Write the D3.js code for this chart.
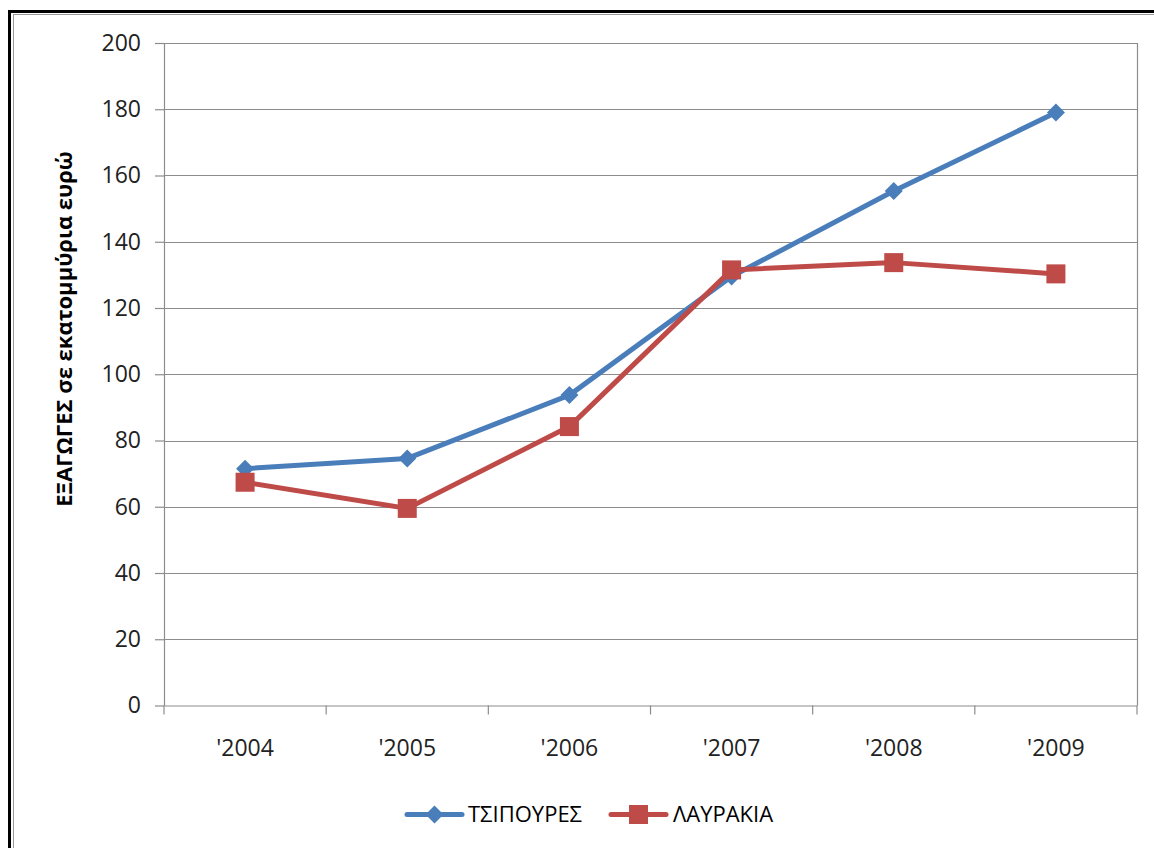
<!DOCTYPE html>
<html><head><meta charset="utf-8">
<script src="https://cdn.jsdelivr.net/npm/d3@7"></script>
<style>html,body{margin:0;padding:0;background:#fff;}svg{display:block;}</style>
</head><body>
<svg id="chart" width="1154" height="848"></svg>
<script>
const categories = ["'2004","'2005","'2006","'2007","'2008","'2009"];
const seriesNames = ["ΤΣΙΠΟΥΡΕΣ","ΛΑΥΡΑΚΙΑ"];
const tsipoures = [71.5, 74.6, 93.7, 129.5, 155.3, 179];
const lavrakia = [67.4, 59.5, 84.2, 131.5, 133.7, 130.3];
const yTicks = [0,20,40,60,80,100,120,140,160,180,200];
const yTitle = "ΕΞΑΓΩΓΕΣ σε εκατομμύρια ευρώ";
const colors = ["#4A7EBB","#BE4B48"];

const svg = d3.select("#chart");
const L = 164, R = 1137, T = 43, B = 705.5;
const x = d3.scaleBand().domain(categories).range([L, R]);
const y = d3.scaleLinear().domain([0, 200]).range([B, T]);
const font = "'Open Sans', sans-serif";

// outer frame
svg.append("line").attr("x1",9.5).attr("x2",9.5).attr("y1",10).attr("y2",848).attr("stroke","#000").attr("stroke-width",3);
svg.append("line").attr("x1",8).attr("x2",1154).attr("y1",11.5).attr("y2",11.5).attr("stroke","#000").attr("stroke-width",3);
svg.append("line").attr("x1",13.5).attr("x2",13.5).attr("y1",14).attr("y2",848).attr("stroke","#999").attr("stroke-width",1);
svg.append("line").attr("x1",13).attr("x2",1154).attr("y1",14.5).attr("y2",14.5).attr("stroke","#999").attr("stroke-width",1);

// gridlines
svg.append("g").selectAll("line").data(yTicks.filter(d=>d>0)).join("line")
  .attr("x1",L).attr("x2",R).attr("y1",d=>Math.round(y(d))+0.5).attr("y2",d=>Math.round(y(d))+0.5)
  .attr("stroke","#8c8c8c").attr("stroke-width",1.2);
// right border
svg.append("line").attr("x1",R+0.5).attr("x2",R+0.5).attr("y1",T).attr("y2",B).attr("stroke","#8c8c8c").attr("stroke-width",1.2);

// y axis
const yAxis = d3.axisLeft(y).tickValues(yTicks).tickSize(9).tickPadding(14).tickSizeOuter(0);
const gy = svg.append("g").attr("transform",`translate(${L},0)`).call(yAxis);
gy.select(".domain").attr("stroke","#8c8c8c").attr("stroke-width",1.2);
gy.selectAll(".tick line").attr("stroke","#8c8c8c").attr("stroke-width",1.2);
gy.selectAll("text").attr("font-family",font).attr("font-size",23).attr("fill","#222");

// x axis
const xAxis = d3.axisBottom(x).tickSize(0).tickPadding(34).tickSizeOuter(0);
const gx = svg.append("g").attr("transform",`translate(0,${B})`).call(xAxis);
gx.select(".domain").attr("stroke","#8c8c8c").attr("stroke-width",1.2);
gx.selectAll("text").attr("font-family",font).attr("font-size",23).attr("fill","#222");
// category boundary ticks
const bounds = categories.map(c=>x(c)).concat([R]);
svg.append("g").selectAll("line").data(bounds).join("line")
  .attr("x1",d=>d).attr("x2",d=>d).attr("y1",B).attr("y2",B+9)
  .attr("stroke","#8c8c8c").attr("stroke-width",1.2);

// y title
svg.append("text").attr("transform",`translate(72,${329}) rotate(-90)`)
  .attr("text-anchor","middle").attr("font-family",font).attr("font-weight","bold")
  .attr("font-size",22).attr("fill","#000").text(yTitle);

const cx = c => x(c) + x.bandwidth()/2;
const line = d3.line().x((d,i)=>cx(categories[i])).y(d=>y(d));
const data = [tsipoures, lavrakia];

data.forEach((vals, si) => {
  svg.append("path").datum(vals).attr("d",line).attr("fill","none")
    .attr("stroke",colors[si]).attr("stroke-width",5).attr("stroke-linejoin","round");
  const g = svg.append("g");
  if (si === 0) {
    g.selectAll("path").data(vals).join("path")
      .attr("d","M0,-9L9,0L0,9L-9,0Z")
      .attr("transform",(d,i)=>`translate(${cx(categories[i])},${y(d)})`)
      .attr("fill",colors[si]);
  } else {
    g.selectAll("rect").data(vals).join("rect")
      .attr("x",(d,i)=>cx(categories[i])-9.5).attr("y",d=>y(d)-9.5)
      .attr("width",19).attr("height",19).attr("fill",colors[si]);
  }
});

// legend
const legendItems = [{x:407, tx:468}, {x:611, tx:673}];
legendItems.forEach((it, si) => {
  const ly = 814.5;
  svg.append("line").attr("x1",it.x).attr("x2",it.x+55).attr("y1",ly).attr("y2",ly)
    .attr("stroke",colors[si]).attr("stroke-width",5).attr("stroke-linecap","round");
  const mx = it.x + 27.5;
  if (si === 0) {
    svg.append("path").attr("d","M0,-9L9,0L0,9L-9,0Z").attr("transform",`translate(${mx},${ly})`).attr("fill",colors[si]);
  } else {
    svg.append("rect").attr("x",mx-9.5).attr("y",ly-9.5).attr("width",19).attr("height",19).attr("fill",colors[si]);
  }
  svg.append("text").attr("x",it.tx).attr("y",ly).attr("dy","0.35em")
    .attr("font-family",font).attr("font-size",22).attr("fill","#000").text(seriesNames[si]);
});
</script>
</body></html>
